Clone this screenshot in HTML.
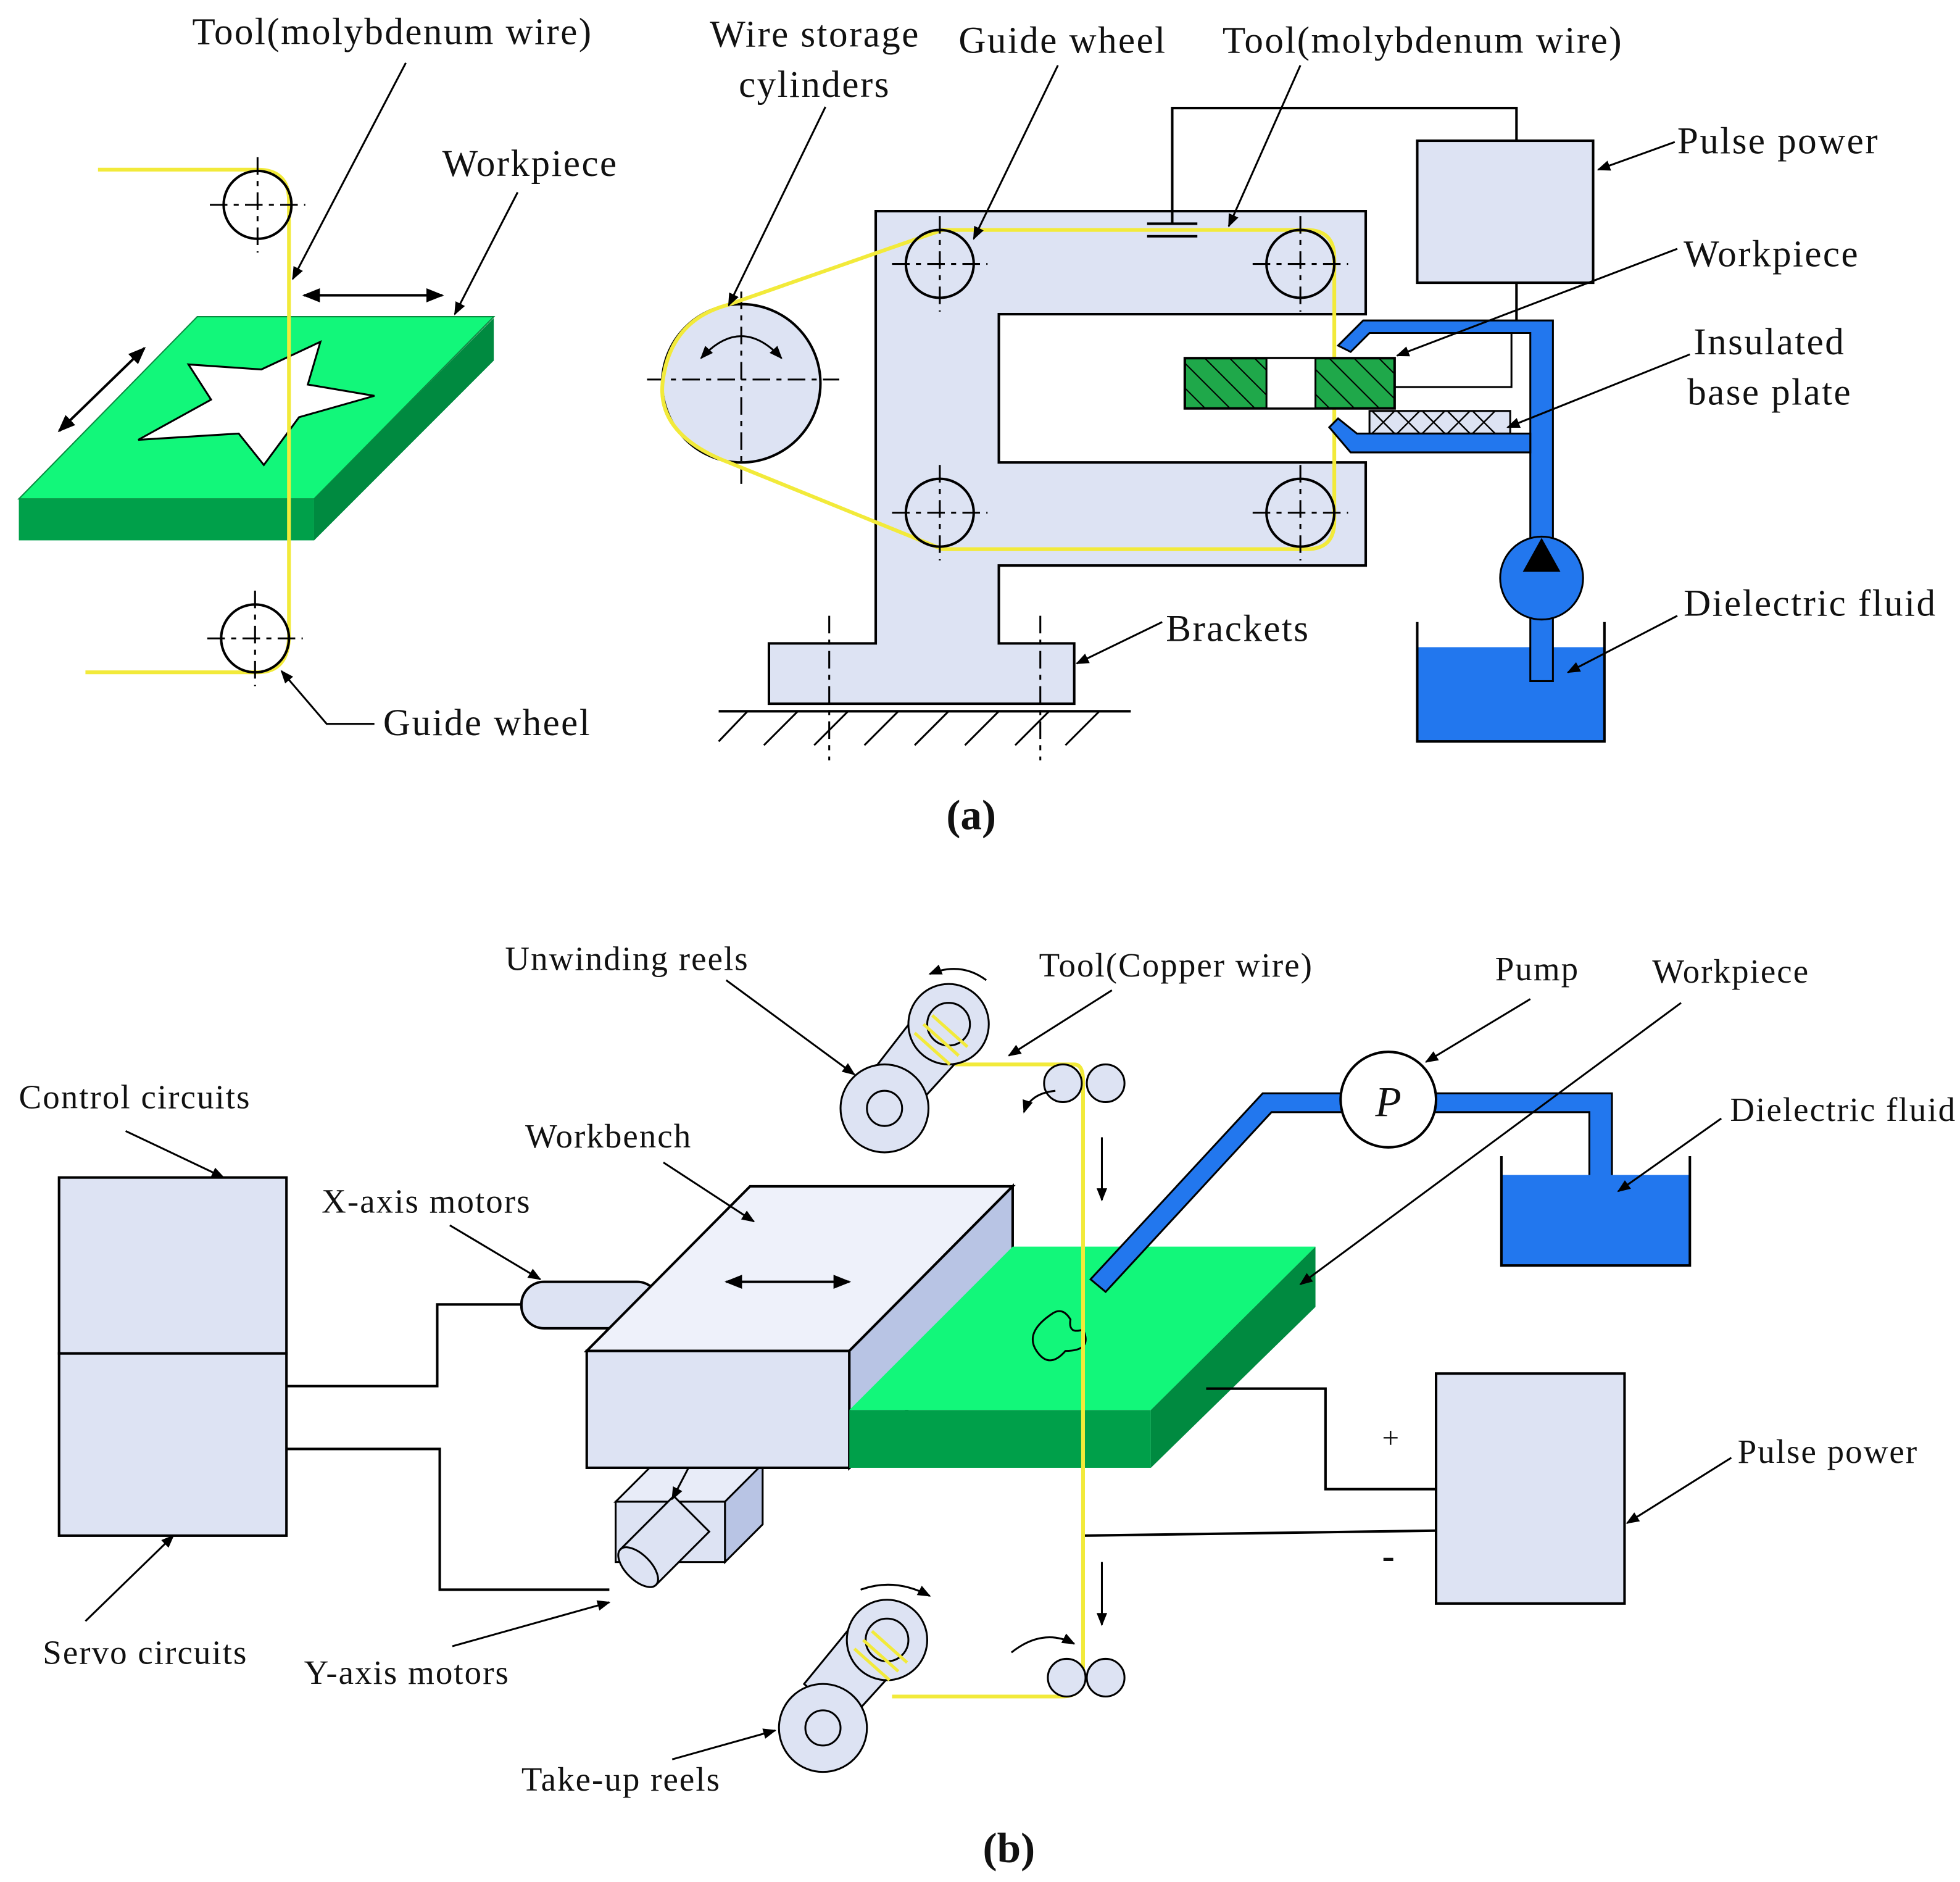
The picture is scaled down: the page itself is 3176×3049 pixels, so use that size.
<!DOCTYPE html>
<html><head><meta charset="utf-8"><style>html,body{margin:0;padding:0;background:#fff}svg{display:block}text{font-family:"Liberation Serif",serif;fill:#111}</style></head><body>
<svg width="3176" height="3049" viewBox="0 0 1560 1497.6" preserveAspectRatio="none" xmlns="http://www.w3.org/2000/svg">
<defs>
<marker id="ar" viewBox="0 0 10 10" refX="9" refY="5" markerWidth="7" markerHeight="7" orient="auto-start-reverse"><path d="M0,1 L10,5 L0,9 z" fill="#000"/></marker>
<pattern id="hatch" width="14" height="14" patternUnits="userSpaceOnUse" patternTransform="rotate(-45)"><rect width="14" height="14" fill="#1fa84a"/><line x1="0" y1="0" x2="0" y2="14" stroke="#000" stroke-width="2"/></pattern>
<g id="wheel"><circle r="27" fill="none" stroke="#000" stroke-width="2"/><line x1="-38" y1="0" x2="38" y2="0" stroke="#000" stroke-width="1.5" stroke-dasharray="14,5,4,5"/><line x1="0" y1="-38" x2="0" y2="38" stroke="#000" stroke-width="1.5" stroke-dasharray="14,5,4,5"/></g>
</defs>
<g font-size="30" letter-spacing="1.2">
<!-- (a) left -->
<polygon points="157,252 393,252 250,397 15,397" fill="#12f77a" stroke="#0a8a40"/>
<rect x="15" y="397" width="235" height="33" fill="#00a04a"/>
<polygon points="250,397 393,253 393,287 250,430" fill="#008a40"/>
<polygon points="110,350 168,318 150,290 208,294 255,272 245,306 298,315 238,332 210,370 190,345" fill="#fff" stroke="#000" stroke-width="1.5"/>
<path d="M78,135 H205 Q230,135 230,160 V505 Q230,535 205,535 H68" fill="none" stroke="#f2ea3a" stroke-width="3"/>
<use href="#wheel" x="205" y="163"/><use href="#wheel" x="203" y="508"/>
<line x1="242" y1="235" x2="352" y2="235" stroke="#000" stroke-width="2" marker-start="url(#ar)" marker-end="url(#ar)"/>
<line x1="47" y1="343" x2="115" y2="277" stroke="#000" stroke-width="2" marker-start="url(#ar)" marker-end="url(#ar)"/>
<line x1="323" y1="50" x2="233" y2="222" stroke="#000" stroke-width="1.5" marker-end="url(#ar)"/>
<line x1="412" y1="153" x2="362" y2="250" stroke="#000" stroke-width="1.5" marker-end="url(#ar)"/>
<polyline points="298,576 260,576 224,534" fill="none" stroke="#000" stroke-width="1.5" marker-end="url(#ar)"/>
<text x="153" y="35">Tool(molybdenum wire)</text>
<text x="352" y="140">Workpiece</text>
<text x="305" y="585">Guide wheel</text>
<!-- (a) right -->
<polygon points="697,168 1087,168 1087,250 795,250 795,368 1087,368 1087,450 795,450 795,512 855,512 855,560 612,560 612,512 697,512" fill="#dde3f3" stroke="#000" stroke-width="2"/>
<line x1="572" y1="566" x2="900" y2="566" stroke="#000" stroke-width="2"/>
<g stroke="#000" stroke-width="1.5"><line x1="595" y1="566" x2="572" y2="590"/><line x1="635" y1="566" x2="608" y2="593"/><line x1="675" y1="566" x2="648" y2="593"/><line x1="715" y1="566" x2="688" y2="593"/><line x1="755" y1="566" x2="728" y2="593"/><line x1="795" y1="566" x2="768" y2="593"/><line x1="835" y1="566" x2="808" y2="593"/><line x1="875" y1="566" x2="848" y2="593"/></g>
<line x1="660" y1="490" x2="660" y2="605" stroke="#000" stroke-width="1.5" stroke-dasharray="14,5,4,5"/>
<line x1="828" y1="490" x2="828" y2="605" stroke="#000" stroke-width="1.5" stroke-dasharray="14,5,4,5"/>
<circle cx="590" cy="305" r="63" fill="#dde3f3" stroke="#000" stroke-width="2"/>
<line x1="515" y1="302" x2="668" y2="302" stroke="#000" stroke-width="1.5" stroke-dasharray="14,5,4,5"/>
<line x1="590" y1="232" x2="590" y2="385" stroke="#000" stroke-width="1.5" stroke-dasharray="14,5,4,5"/>
<path d="M558,285 Q590,250 622,285" fill="none" stroke="#000" stroke-width="1.5" marker-start="url(#ar)" marker-end="url(#ar)"/>
<path d="M578,243 L750,183 H1040 Q1062,183 1062,205 V415 Q1062,437 1040,437 H750 L580,368 Q520,345 528,300 Q535,255 578,243 Z" fill="none" stroke="#f2ea3a" stroke-width="3"/>
<use href="#wheel" x="748" y="210"/><use href="#wheel" x="1035" y="210"/><use href="#wheel" x="748" y="408"/><use href="#wheel" x="1035" y="408"/>
<rect x="1128" y="112" width="140" height="113" fill="#dde3f3" stroke="#000" stroke-width="2"/>
<polyline points="1207,112 1207,86 933,86 933,178" fill="none" stroke="#000" stroke-width="2"/>
<line x1="913" y1="178" x2="953" y2="178" stroke="#000" stroke-width="2"/><line x1="913" y1="188" x2="953" y2="188" stroke="#000" stroke-width="2"/>
<line x1="1207" y1="225" x2="1207" y2="255" stroke="#000" stroke-width="2"/>
<polyline points="1110,263 1203,263 1203,308 1110,308" fill="none" stroke="#000" stroke-width="1.5"/>
<rect x="943" y="285" width="167" height="40" fill="url(#hatch)" stroke="#000" stroke-width="2"/>
<rect x="1008" y="285" width="39" height="40" fill="#fff" stroke="#000" stroke-width="1.5"/>
<rect x="1090" y="327" width="112" height="18" fill="#dde3f3" stroke="#000" stroke-width="1.5"/>
<path d="M1092,327 l18,18 m0,-18 l-18,18 M1112,327 l18,18 m0,-18 l-18,18 M1132,327 l18,18 m0,-18 l-18,18 M1152,327 l18,18 m0,-18 l-18,18 M1172,327 l18,18 m0,-18 l-18,18" stroke="#000" stroke-width="1.2"/>
<path d="M1065,275 L1085,255 H1236 V440 H1218 V265 H1090 L1075,280 Z" fill="#2277ee" stroke="#000" stroke-width="1.5"/>
<path d="M1058,340 L1075,360 H1218 V345 H1080 L1065,333 Z" fill="#2277ee" stroke="#000" stroke-width="1.5"/>
<rect x="1128" y="515" width="149" height="75" fill="#2277ee"/>
<polyline points="1128,495 1128,590 1277,590 1277,495" fill="none" stroke="#000" stroke-width="2"/>
<rect x="1218" y="480" width="18" height="62" fill="#2277ee" stroke="#000" stroke-width="1.5"/>
<circle cx="1227" cy="460" r="33" fill="#2277ee" stroke="#000" stroke-width="1.5"/>
<polygon points="1227,428 1212,455 1242,455" fill="#000"/>
<g stroke="#000" stroke-width="1.5" fill="none">
<line x1="657" y1="85" x2="580" y2="243" marker-end="url(#ar)"/>
<line x1="842" y1="52" x2="775" y2="190" marker-end="url(#ar)"/>
<line x1="1035" y1="52" x2="978" y2="180" marker-end="url(#ar)"/>
<line x1="1333" y1="113" x2="1272" y2="135" marker-end="url(#ar)"/>
<line x1="1335" y1="198" x2="1112" y2="283" marker-end="url(#ar)"/>
<line x1="1345" y1="282" x2="1200" y2="340" marker-end="url(#ar)"/>
<line x1="1335" y1="490" x2="1248" y2="535" marker-end="url(#ar)"/>
<line x1="925" y1="495" x2="857" y2="528" marker-end="url(#ar)"/>
</g>
<text x="565" y="37">Wire storage</text><text x="588" y="77">cylinders</text>
<text x="763" y="42">Guide wheel</text>
<text x="973" y="42">Tool(molybdenum wire)</text>
<text x="1335" y="122">Pulse power</text>
<text x="1340" y="212">Workpiece</text>
<text x="1348" y="282">Insulated</text><text x="1343" y="322">base plate</text>
<text x="1340" y="490">Dielectric fluid</text>
<text x="928" y="510">Brackets</text>
<text x="773" y="660" font-weight="bold" font-size="34" letter-spacing="0" text-anchor="middle">(a)</text>
<!-- (b) -->
<rect x="47" y="937" width="181" height="140" fill="#dde3f3" stroke="#000" stroke-width="2"/>
<rect x="47" y="1077" width="181" height="145" fill="#dde3f3" stroke="#000" stroke-width="2"/>
<polyline points="228,1103 348,1103 348,1038 420,1038" fill="none" stroke="#000" stroke-width="2"/>
<polyline points="228,1153 350,1153 350,1265 485,1265" fill="none" stroke="#000" stroke-width="2"/>
<rect x="415" y="1020" width="110" height="37" rx="18" fill="#dde3f3" stroke="#000" stroke-width="2"/>
<polygon points="490,1195 520,1165 607,1165 577,1195" fill="#e8ecf8" stroke="#000" stroke-width="1.5"/>
<polygon points="577,1195 607,1165 607,1213 577,1243" fill="#b8c4e4" stroke="#000" stroke-width="1.5"/>
<rect x="490" y="1195" width="87" height="48" fill="#dde3f3" stroke="#000" stroke-width="1.5"/>
<g transform="translate(515,1240) rotate(-45)"><rect x="-10" y="-20" width="60" height="40" fill="#dde3f3" stroke="#000" stroke-width="1.5"/><ellipse cx="-10" cy="0" rx="10" ry="20" fill="#dde3f3" stroke="#000" stroke-width="1.5"/></g>
<polygon points="467,1075 597,944 806,944 676,1075" fill="#eef1fa" stroke="#000" stroke-width="2"/>
<rect x="467" y="1075" width="209" height="93" fill="#dde3f3" stroke="#000" stroke-width="2"/>
<polygon points="676,1075 806,944 806,1037 676,1168" fill="#b8c4e4" stroke="#000" stroke-width="2"/>
<line x1="578" y1="1020" x2="676" y2="1020" stroke="#000" stroke-width="2" marker-start="url(#ar)" marker-end="url(#ar)"/>
<line x1="548" y1="1168" x2="535" y2="1193" stroke="#000" stroke-width="1.5" marker-end="url(#ar)"/>
<polygon points="806,992 1047,992 916,1122 676,1122" fill="#12f77a"/>
<rect x="676" y="1122" width="240" height="46" fill="#00a04a"/>
<polygon points="916,1122 1047,992 1047,1040 916,1168" fill="#008a40"/>
<path d="M838,1045 Q815,1060 825,1075 Q835,1090 848,1075 Q870,1075 862,1058 Q850,1062 852,1050 Q846,1040 838,1045" fill="none" stroke="#000" stroke-width="1.5"/>
<path d="M868,1018 L1005,870 H1068 V885 H1012 L880,1028 Z" fill="#2277ee" stroke="#000" stroke-width="1.5"/>
<path d="M1140,870 H1283 V937 H1265 V885 H1140 Z" fill="#2277ee" stroke="#000" stroke-width="1.5"/>
<rect x="1195" y="935" width="150" height="72" fill="#2277ee"/>
<polyline points="1195,920 1195,1007 1345,1007 1345,920" fill="none" stroke="#000" stroke-width="2"/>
<circle cx="1105" cy="875" r="38" fill="#fff" stroke="#000" stroke-width="2"/>
<text x="1105" y="888" font-style="italic" font-size="34" letter-spacing="0" text-anchor="middle">P</text>
<rect x="1143" y="1093" width="150" height="183" fill="#dde3f3" stroke="#000" stroke-width="2"/>
<polyline points="960,1105 1055,1105 1055,1185 1143,1185" fill="none" stroke="#000" stroke-width="2"/>
<line x1="862" y1="1222" x2="1143" y2="1218" stroke="#000" stroke-width="2"/>
<text x="1100" y="1152" font-size="24">+</text><text x="1100" y="1248" font-size="30" font-weight="bold">-</text>
<path d="M760,847 H855 Q862,847 862,860 V1335 Q862,1350 845,1350 H710" fill="none" stroke="#f2ea3a" stroke-width="3"/>
<circle cx="846" cy="862" r="15" fill="#dde3f3" stroke="#000" stroke-width="1.5"/><circle cx="880" cy="862" r="15" fill="#dde3f3" stroke="#000" stroke-width="1.5"/>
<circle cx="849" cy="1335" r="15" fill="#dde3f3" stroke="#000" stroke-width="1.5"/><circle cx="880" cy="1335" r="15" fill="#dde3f3" stroke="#000" stroke-width="1.5"/>
<line x1="877" y1="905" x2="877" y2="955" stroke="#000" stroke-width="1.5" marker-end="url(#ar)"/>
<line x1="877" y1="1243" x2="877" y2="1293" stroke="#000" stroke-width="1.5" marker-end="url(#ar)"/>
<g stroke="#000" stroke-width="1.5">
<polygon points="690,858 735,800 775,830 725,885" fill="#dde3f3"/>
<circle cx="755" cy="815" r="32" fill="#dde3f3"/><circle cx="755" cy="815" r="17" fill="#dde3f3"/>
<circle cx="704" cy="882" r="35" fill="#dde3f3"/><circle cx="704" cy="882" r="14" fill="#dde3f3"/>
<polygon points="640,1340 685,1285 725,1315 675,1370" fill="#dde3f3"/>
<circle cx="706" cy="1305" r="32" fill="#dde3f3"/><circle cx="706" cy="1305" r="17" fill="#dde3f3"/>
<circle cx="655" cy="1375" r="35" fill="#dde3f3"/><circle cx="655" cy="1375" r="14" fill="#dde3f3"/>
</g>
<g stroke="#f2ea3a" stroke-width="2.5" fill="none"><path d="M728,822 l28,25 M735,815 l28,25 M742,808 l28,25"/><path d="M680,1312 l28,25 M687,1305 l28,25 M694,1298 l28,25"/></g>
<g stroke="#000" stroke-width="1.5" fill="none">
<path d="M785,780 Q765,765 740,775" marker-end="url(#ar)"/>
<path d="M840,868 Q820,870 815,885" marker-end="url(#ar)"/>
<path d="M685,1265 Q712,1255 740,1270" marker-end="url(#ar)"/>
<path d="M805,1315 Q830,1295 855,1308" marker-end="url(#ar)"/>
<line x1="100" y1="900" x2="178" y2="937" marker-end="url(#ar)"/>
<line x1="68" y1="1290" x2="138" y2="1222" marker-end="url(#ar)"/>
<line x1="528" y1="925" x2="600" y2="972" marker-end="url(#ar)"/>
<line x1="358" y1="975" x2="430" y2="1018" marker-end="url(#ar)"/>
<line x1="360" y1="1310" x2="485" y2="1275" marker-end="url(#ar)"/>
<line x1="578" y1="780" x2="680" y2="855" marker-end="url(#ar)"/>
<line x1="885" y1="788" x2="803" y2="840" marker-end="url(#ar)"/>
<line x1="1218" y1="795" x2="1135" y2="845" marker-end="url(#ar)"/>
<line x1="1338" y1="798" x2="1035" y2="1022" marker-end="url(#ar)"/>
<line x1="1370" y1="890" x2="1288" y2="948" marker-end="url(#ar)"/>
<line x1="1378" y1="1160" x2="1295" y2="1212" marker-end="url(#ar)"/>
<line x1="535" y1="1400" x2="617" y2="1377" marker-end="url(#ar)"/>
</g>
<g font-size="27" letter-spacing="1">
<text x="402" y="772">Unwinding reels</text>
<text x="827" y="777">Tool(Copper wire)</text>
<text x="1190" y="780">Pump</text>
<text x="1315" y="782">Workpiece</text>
<text x="15" y="882">Control circuits</text>
<text x="418" y="913">Workbench</text>
<text x="256" y="965">X-axis motors</text>
<text x="1377" y="892">Dielectric fluid</text>
<text x="1383" y="1164">Pulse power</text>
<text x="34" y="1324">Servo circuits</text>
<text x="242" y="1340">Y-axis motors</text>
<text x="415" y="1425">Take-up reels</text>
</g>
<text x="803" y="1482" font-weight="bold" font-size="34" letter-spacing="0" text-anchor="middle">(b)</text>
</g>
</svg>
</body></html>
